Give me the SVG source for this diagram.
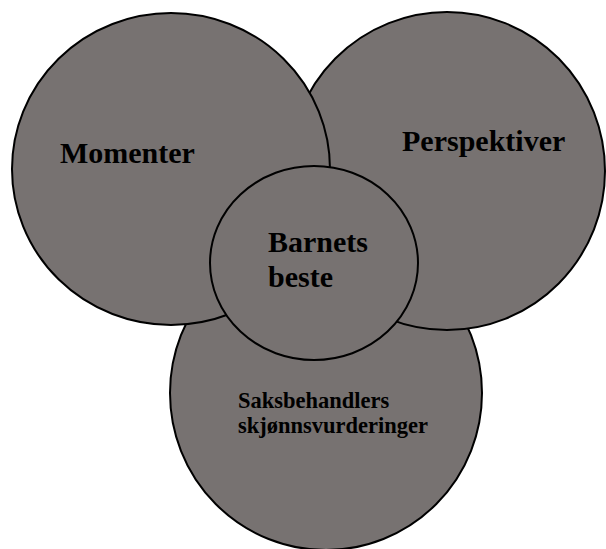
<svg xmlns="http://www.w3.org/2000/svg" width="606" height="549" viewBox="0 0 606 549">
<style>
.c{fill:#777271;stroke:#000;stroke-width:2}
.t{font-family:"Liberation Serif","Times New Roman",serif;font-weight:bold;fill:#000}
</style>
<rect width="606" height="549" fill="#fff"/>
<g id="saksbehandler">
<ellipse class="c" cx="326" cy="393" rx="156" ry="157"/>
<text class="t" font-size="22.5" x="238" y="408">Saksbehandlers</text>
<text class="t" font-size="22.5" x="238" y="433">skjønnsvurderinger</text>
</g>
<g id="perspektiver">
<ellipse class="c" cx="447" cy="171" rx="158" ry="159"/>
<text class="t" font-size="30" x="402" y="151">Perspektiver</text>
</g>
<g id="momenter">
<ellipse class="c" cx="171" cy="169" rx="159" ry="156"/>
<text class="t" font-size="30" x="60" y="163">Momenter</text>
</g>
<g id="barnets-beste">
<ellipse class="c" cx="314" cy="263" rx="104" ry="97"/>
<text class="t" font-size="30" x="268" y="252">Barnets</text>
<text class="t" font-size="30" x="268" y="287">beste</text>
</g>
<g id="connectors"/>
</svg>
